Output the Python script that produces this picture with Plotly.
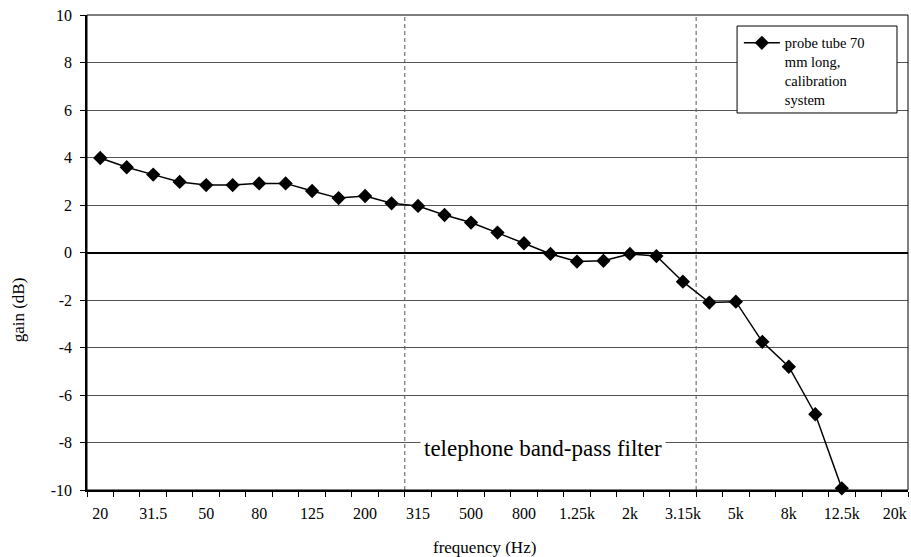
import plotly.graph_objects as go

freqs = ["20", "25", "31.5", "40", "50", "63", "80", "100", "125", "160", "200", "250",
         "315", "400", "500", "630", "800", "1k", "1.25k", "1.6k", "2k", "2.5k", "3.15k",
         "4k", "5k", "6.3k", "8k", "10k", "12.5k", "16k", "20k"]
gain_db = [3.98, 3.59, 3.28, 2.97, 2.84, 2.84, 2.91, 2.91, 2.59, 2.29, 2.38, 2.07,
           1.96, 1.58, 1.26, 0.84, 0.39, -0.06, -0.38, -0.35, -0.06, -0.15, -1.23,
           -2.11, -2.07, -3.76, -4.81, -6.81, -9.93, None, None]
series_name = "probe tube 70<br>mm long,<br>calibration<br>system"
band_lower = "315"
band_upper = "3.15k"
y_ticks = [-10, -8, -6, -4, -2, 0, 2, 4, 6, 8, 10]

FONT = "Liberation Serif, Times New Roman, serif"
idx = list(range(len(freqs)))
label_idx = idx[::2]
label_txt = [freqs[i] for i in label_idx]
boundaries = [i - 0.5 for i in idx] + [idx[-1] + 0.5]

fig = go.Figure()
fig.add_trace(go.Scatter(
    x=idx, y=gain_db, mode="lines+markers", name=series_name,
    line=dict(color="black", width=1.5),
    marker=dict(symbol="diamond", size=11, color="black"),
    cliponaxis=False, connectgaps=False,
))

lo = freqs.index(band_lower) - 0.5
hi = freqs.index(band_upper) + 0.5
for xv in (lo, hi):
    fig.add_shape(type="line", xref="x", yref="paper", x0=xv, x1=xv, y0=0, y1=1,
                  line=dict(color="#555", width=1, dash="4px,3px"), layer="below")

fig.add_annotation(x=(lo + hi) / 2 - 0.3, y=-8.25, xref="x", yref="y",
                   text="telephone band-pass filter", showarrow=False,
                   font=dict(family=FONT, size=23, color="black"),
                   bgcolor="white", borderpad=3)

# plot-area border
fig.add_shape(type="rect", xref="paper", yref="paper", x0=0, x1=1, y0=0, y1=1,
              line=dict(color="black", width=1))
# legend box
fig.add_shape(type="rect", xref="paper", yref="paper", x0=0.7918, x1=0.9866,
              y0=0.7937, y1=0.9768, fillcolor="white",
              line=dict(color="black", width=1), layer="above")

fig.add_annotation(x=0.484, y=-0.122, xref="paper", yref="paper", text="frequency (Hz)",
                   showarrow=False, font=dict(family=FONT, size=17, color="black"),
                   xanchor="center", yanchor="middle")
fig.add_annotation(x=-0.083, y=0.38, xref="paper", yref="paper", text="gain (dB)",
                   textangle=-90, showarrow=False,
                   font=dict(family=FONT, size=17, color="black"),
                   xanchor="center", yanchor="middle")

fig.update_layout(
    width=911, height=557,
    margin=dict(l=87, r=3, t=15, b=67, autoexpand=False),
    paper_bgcolor="white", plot_bgcolor="white",
    font=dict(family=FONT, size=16, color="black"),
    showlegend=True,
    legend=dict(x=0.794, y=0.975, xanchor="left", yanchor="top",
                bgcolor="rgba(0,0,0,0)", borderwidth=0, valign="top",
                font=dict(family=FONT, size=14.5, color="black"),
                itemwidth=36, tracegroupgap=0),
    xaxis=dict(range=[-0.5, len(freqs) - 0.5], tickmode="array",
               tickvals=label_idx, ticktext=label_txt, ticks="",
               ticklabelstandoff=8,
               showgrid=False, zeroline=False, showline=True,
               linecolor="black", linewidth=2,
               tickfont=dict(family=FONT, size=16, color="black"),
               minor=dict(tickmode="array", tickvals=boundaries, ticks="outside",
                          ticklen=5, tickcolor="black", tickwidth=1, showgrid=False)),
    yaxis=dict(range=[-10, 10], tickmode="array", tickvals=y_ticks,
               ticktext=[str(v) for v in y_ticks],
               ticks="outside", ticklen=5, tickcolor="black",
               ticklabelstandoff=5,
               showgrid=True, gridcolor="#555", gridwidth=1,
               zeroline=True, zerolinecolor="black", zerolinewidth=2,
               showline=True, linecolor="black", linewidth=1.5,
               tickfont=dict(family=FONT, size=16, color="black")),
)

fig.write_html("out.html", config={"displayModeBar": False},
               post_script="document.body.style.margin = '0';")
